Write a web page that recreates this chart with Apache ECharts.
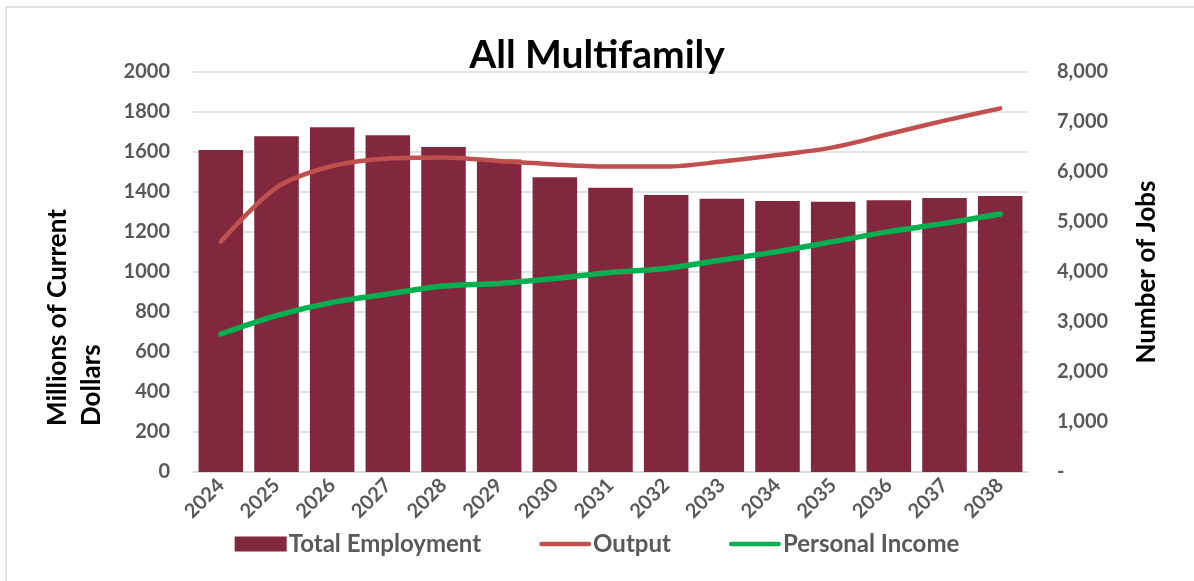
<!DOCTYPE html>
<html>
<head>
<meta charset="utf-8">
<script src="https://cdn.jsdelivr.net/npm/echarts@6/dist/echarts.min.js"></script>
<style>
  html, body { margin: 0; padding: 0; background: #fff; }
  #chart { width: 1194px; height: 581px; }
</style>
</head>
<body>
<div id="chart"></div>
<script>
// data
const years = ['2024', '2025', '2026', '2027', '2028', '2029', '2030', '2031',
               '2032', '2033', '2034', '2035', '2036', '2037', '2038'];
const totalEmployment = [6440, 6713, 6893, 6733, 6500, 6250, 5893, 5687,
                         5540, 5467, 5420, 5407, 5433, 5480, 5520];
const output = [1152, 1422, 1530, 1568, 1573, 1555, 1538, 1527,
                1527, 1552, 1585, 1623, 1690, 1757, 1818];
const personalIncome = [690, 782, 848, 890, 930, 943, 968, 998,
                        1018, 1060, 1102, 1152, 1202, 1243, 1290];
const leftTicks = [0, 2000, 200];   // min, max, step
const rightTicks = [0, 8000, 1000];

const font = 'Lato';
const grey = '#595959';
const lineIcon = 'path://M2,0 L54,0 A2.5,2.5 0 0 1 54,5 L2,5 A2.5,2.5 0 0 1 2,0 Z';

const chart = echarts.init(document.getElementById('chart'));
const option = {
  animation: false,
  textStyle: { fontFamily: font },
  title: {
    text: 'All Multifamily',
    left: 'center',
    top: 31,
    textStyle: { fontSize: 39, fontWeight: 'bold', color: '#000', fontFamily: font }
  },
  grid: { left: 193, right: 166, top: 72, bottom: 109 },
  legend: {
    bottom: 20,
    left: 'center',
    itemWidth: 52,
    itemHeight: 15,
    itemGap: 58,
    textStyle: { fontSize: 24, fontWeight: 'bold', color: grey, fontFamily: font, padding: [0, 0, 0, -3] },
    data: [
      { name: 'Total Employment', icon: 'rect' },
      { name: 'Output', icon: lineIcon },
      { name: 'Personal Income', icon: lineIcon }
    ]
  },
  xAxis: {
    type: 'category',
    data: years,
    axisTick: { show: false },
    axisLine: { lineStyle: { color: '#d9d9d9', width: 1.5 } },
    axisLabel: { rotate: 45, fontSize: 20, fontWeight: 'bold', color: grey, margin: 10 }
  },
  yAxis: [
    {
      type: 'value',
      min: leftTicks[0], max: leftTicks[1], interval: leftTicks[2],
      axisLine: { show: false },
      axisTick: { show: false },
      splitLine: { lineStyle: { color: '#d9d9d9', width: 1.5 } },
      axisLabel: { fontSize: 20, fontWeight: 'bold', color: grey, margin: 23, formatter: v => String(v) }
    },
    {
      type: 'value',
      min: rightTicks[0], max: rightTicks[1], interval: rightTicks[2],
      name: 'Number of Jobs',
      nameLocation: 'middle',
      nameRotate: 90,
      nameGap: 106,
      nameTextStyle: { fontSize: 26, fontWeight: 'bold', color: '#000', fontFamily: font },
      axisLine: { show: false },
      axisTick: { show: false },
      splitLine: { show: false },
      axisLabel: {
        fontSize: 20, fontWeight: 'bold', color: grey, margin: 29,
        formatter: v => v === 0 ? '-' : v.toLocaleString('en-US')
      }
    }
  ],
  graphic: [
    {
      type: 'rect',
      shape: { x: 6, y: 7, width: 1260, height: 640 },
      style: { fill: 'none', stroke: '#d9d9d9', lineWidth: 1.5 },
      silent: true
    },
    {
      type: 'text',
      x: 75, y: 426,
      rotation: Math.PI / 2,
      style: {
        text: 'Millions of Current\nDollars',
        font: 'bold 26px ' + font,
        fill: '#000',
        textAlign: 'left',
        textVerticalAlign: 'middle',
        lineHeight: 34
      }
    }
  ],
  series: [
    {
      name: 'Total Employment',
      type: 'bar',
      yAxisIndex: 1,
      data: totalEmployment,
      barCategoryGap: '20%',
      itemStyle: { color: '#82283e' }
    },
    {
      name: 'Output',
      type: 'line',
      yAxisIndex: 0,
      data: output,
      smooth: 0.3,
      symbol: 'none',
      lineStyle: { color: '#c0504d', width: 4.5, cap: 'round' },
      itemStyle: { color: '#c0504d' }
    },
    {
      name: 'Personal Income',
      type: 'line',
      yAxisIndex: 0,
      data: personalIncome,
      smooth: 0.3,
      symbol: 'none',
      lineStyle: { color: '#00b050', width: 5.5, cap: 'round' },
      itemStyle: { color: '#00b050' }
    }
  ]
};
chart.setOption(option);
</script>
</body>
</html>
